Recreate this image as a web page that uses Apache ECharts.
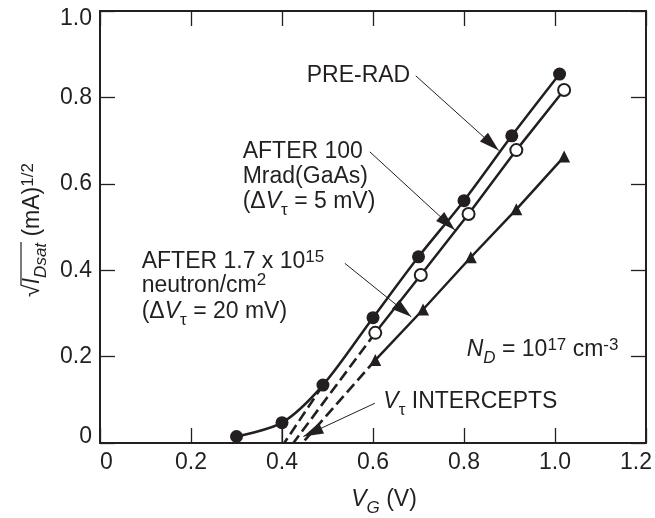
<!DOCTYPE html>
<html lang="en">
<head>
<meta charset="utf-8">
<title>VT intercepts</title>
<script src="https://cdn.jsdelivr.net/npm/echarts@6/dist/echarts.min.js"></script>
<style>
	html, body { margin: 0; padding: 0; background: #fff; }
	#chartmain { width: 655px; height: 518px; }
</style>
</head>
<body>
<div id="chartmain"></div>
<script>
// gate voltage V_G (V) and sqrt(I_Dsat) (mA)^1/2
var preRadVg  = [0.3, 0.4, 0.49, 0.6, 0.7, 0.8, 0.905, 1.01];
var preRadI   = [0.015, 0.047, 0.134, 0.29, 0.431, 0.561, 0.711, 0.854];
var gammaVg   = [0.605, 0.705, 0.81, 0.915, 1.02];
var gammaI    = [0.255, 0.389, 0.53, 0.678, 0.817];
var neutronVg = [0.605, 0.71, 0.815, 0.915, 1.02];
var neutronI  = [0.192, 0.309, 0.43, 0.541, 0.663];
// where the dashed extrapolations hit the V_G axis (pre-rad, gamma, neutron)
var vtIntercepts = [0.405, 0.425, 0.445];
var xTicks = [0, 0.2, 0.4, 0.6, 0.8, 1.0, 1.2];
var yTicks = [0, 0.2, 0.4, 0.6, 0.8, 1.0];
// annotation arrows, label end -> arrow tip
var arrowFrom = [[0.694, 0.85], [0.593, 0.674], [0.538, 0.416], [0.604, 0.092]];
var arrowTo   = [[0.8765, 0.677], [0.78, 0.493], [0.684, 0.292], [0.447, 0.015]];

var INK = '#231f20';
var FONT = '"Liberation Sans", Arial, sans-serif';
var FS = 23;

function zip(a, b) {
	var out = [];
	for (var i = 0; i < a.length; i++) out.push([a[i], b[i]]);
	return out;
}

var ctx = document.createElement('canvas').getContext('2d');
function tw(t, font) { ctx.font = font; return ctx.measureText(t).width; }

var RICH = {
	i:    { fontSize: FS, fontFamily: FONT, fontStyle: 'italic', fill: INK },
	sub:  { fontSize: 17, fontFamily: FONT, fill: INK, verticalAlign: 'top', padding: [14, 0, 0, 0] },
	isub: { fontSize: 17, fontFamily: FONT, fontStyle: 'italic', fill: INK, verticalAlign: 'top', padding: [14, 0, 0, 0] },
	sup:  { fontSize: 17, fontFamily: FONT, fill: INK, verticalAlign: 'top', padding: [1, 0, 0, 0] }
};

// baseline sits ~22px below the top of a 28px line
function label(x, baseline, text, align) {
	return {
		type: 'text', x: x, y: baseline - 22, silent: true,
		style: {
			text: text, rich: RICH, fontSize: FS, fontFamily: FONT, fill: INK,
			lineHeight: 28, align: align || 'left', verticalAlign: 'top'
		}
	};
}

// y axis title: rotated, with an overline over I_Dsat
var yTitle = '√{i|I}{isub|Dsat} (mA){sup|1/2}';
var wRoot = tw('√', FS + 'px ' + FONT);
var wI = tw('I', 'italic ' + FS + 'px ' + FONT);
var wDsat = tw('Dsat', 'italic 17px ' + FONT);
var wRest = tw(' (mA)', FS + 'px ' + FONT) + tw('1/2', '17px ' + FONT);
var wAll = wRoot + wI + wDsat + wRest;
var x0 = -wAll / 2;

function tickLabel(edgeFirst, edgeLast, lastVal) {
	return {
		color: INK, fontSize: FS, fontFamily: FONT, margin: 8,
		formatter: function (v) {
			var s = v === 0 ? '0' : v.toFixed(1);
			if (v === 0) return '{first|' + s + '}';
			if (Math.abs(v - lastVal) < 1e-9) return '{last|' + s + '}';
			return s;
		},
		rich: {
			first: { fontSize: FS, fontFamily: FONT, color: INK, padding: edgeFirst },
			last:  { fontSize: FS, fontFamily: FONT, color: INK, padding: edgeLast }
		}
	};
}

var axisLine = { show: true, onZero: false, lineStyle: { color: INK, width: 2 } };
var axisTick = { show: true, inside: true, length: 15, lineStyle: { color: INK, width: 1.3 } };

var myChart = echarts.init(document.getElementById('chartmain'));

var option = {
	animation: false,
	backgroundColor: '#fff',
	grid: { left: 100, right: 5, top: 11, bottom: 75 },
	xAxis: [{
		type: 'value', min: xTicks[0], max: xTicks[xTicks.length - 1], interval: 0.2,
		position: 'bottom', axisLine: axisLine, axisTick: axisTick,
		axisLabel: tickLabel([0, 0, 0, 13], [0, 20, 0, 0], 1.2), splitLine: { show: false }
	}, {
		type: 'value', min: xTicks[0], max: xTicks[xTicks.length - 1], interval: 0.2,
		position: 'top', axisLine: axisLine, axisTick: axisTick,
		axisLabel: { show: false }, splitLine: { show: false }
	}],
	yAxis: [{
		type: 'value', min: yTicks[0], max: yTicks[yTicks.length - 1], interval: 0.2,
		position: 'left', axisLine: axisLine, axisTick: axisTick,
		axisLabel: tickLabel([0, 0, 12, 0], [16, 0, 0, 0], 1.0), splitLine: { show: false }
	}, {
		type: 'value', min: yTicks[0], max: yTicks[yTicks.length - 1], interval: 0.2,
		position: 'right', axisLine: axisLine, axisTick: axisTick,
		axisLabel: { show: false }, splitLine: { show: false }
	}],
	series: [
		{
			name: 'pre-rad extrapolation', type: 'line', symbol: 'none', silent: true,
			data: [[preRadVg[2], preRadI[2]], [vtIntercepts[0], 0]],
			lineStyle: { color: INK, width: 2.6, type: [11, 5] }
		},
		{
			name: 'gamma extrapolation', type: 'line', symbol: 'none', silent: true,
			data: [[gammaVg[0], gammaI[0]], [vtIntercepts[1], 0]],
			lineStyle: { color: INK, width: 2.6, type: [11, 5] }
		},
		{
			name: 'neutron extrapolation', type: 'line', symbol: 'none', silent: true,
			data: [[neutronVg[0], neutronI[0]], [vtIntercepts[2], 0]],
			lineStyle: { color: INK, width: 2.6, type: [11, 5] }
		},
		{
			name: 'drop line', type: 'line', symbol: 'none', silent: true,
			data: [[preRadVg[1], preRadI[1]], [preRadVg[1], 0]],
			lineStyle: { color: INK, width: 1 }
		},
		{
			name: 'neutron', type: 'line', symbol: 'triangle', symbolSize: 12, silent: true,
			data: zip(neutronVg, neutronI),
			itemStyle: { color: INK },
			lineStyle: { color: INK, width: 2.5 }
		},
		{
			name: 'gamma', type: 'line', symbol: 'circle', symbolSize: 12, silent: true,
			data: zip(gammaVg, gammaI),
			itemStyle: { color: '#fff', borderColor: INK, borderWidth: 2 },
			lineStyle: { color: INK, width: 2.5 }
		},
		{
			name: 'pre-rad', type: 'line', symbol: 'circle', symbolSize: 13, silent: true,
			smooth: 0.3,
			data: zip(preRadVg, preRadI),
			itemStyle: { color: INK },
			lineStyle: { color: INK, width: 2.5 },
			markLine: {
				silent: true,
				symbol: ['none', 'none'],
				label: { show: false },
				lineStyle: { color: INK, width: 1, type: 'solid' },
				data: arrowFrom.map(function (p, k) {
					return [{ coord: p }, { coord: arrowTo[k] }];
				})
			}
		}
	],
	graphic: [
		label(306.7, 83.3, 'PRE-RAD'),
		label(242.7, 160, 'AFTER 100'),
		label(242.7, 185, 'Mrad(GaAs)'),
		label(242.7, 210, '(Δ{i|V}{sub|τ} = 5 mV)'),
		label(141.7, 270, 'AFTER 1.7 x 10{sup|15}'),
		label(141.7, 293.3, 'neutron/cm{sup|2}'),
		label(141.7, 320, '(Δ{i|V}{sub|τ} = 20 mV)'),
		label(466.7, 358, '{i|N}{isub|D} = 10{sup|17} cm{sup|-3}'),
		label(383.3, 410, '{i|V}{sub|τ} INTERCEPTS'),
		label(384, 508, '{i|V}{isub|G} (V)', 'center'),
		{
			type: 'group', x: 41, y: 230, rotation: Math.PI / 2, silent: true,
			children: [
				{
					type: 'text', x: x0, y: -22,
					style: {
						text: yTitle, rich: RICH, fontSize: FS, fontFamily: FONT, fill: INK,
						lineHeight: 28, align: 'left', verticalAlign: 'top'
					}
				},
				{
					type: 'line',
					shape: { x1: x0 + wRoot - 1, y1: -20, x2: x0 + wRoot + wI + wDsat + 1, y2: -20 },
					style: { stroke: INK, lineWidth: 1.2 }
				}
			]
		}
	]
};

myChart.setOption(option);

// arrow heads: filled triangles with the tip on the arrowTo point
var heads = arrowTo.map(function (q, k) {
	var a = myChart.convertToPixel({ gridIndex: 0 }, arrowFrom[k]);
	var b = myChart.convertToPixel({ gridIndex: 0 }, q);
	var dx = b[0] - a[0], dy = b[1] - a[1];
	var len = Math.sqrt(dx * dx + dy * dy);
	var ux = dx / len, uy = dy / len;
	var bx = b[0] - ux * 20, by = b[1] - uy * 20;
	return {
		type: 'polygon', silent: true,
		shape: { points: [[b[0], b[1]], [bx - uy * 6, by + ux * 6], [bx + uy * 6, by - ux * 6]] },
		style: { fill: INK }
	};
});
myChart.setOption({ graphic: option.graphic.concat(heads) });
</script>
</body>
</html>
